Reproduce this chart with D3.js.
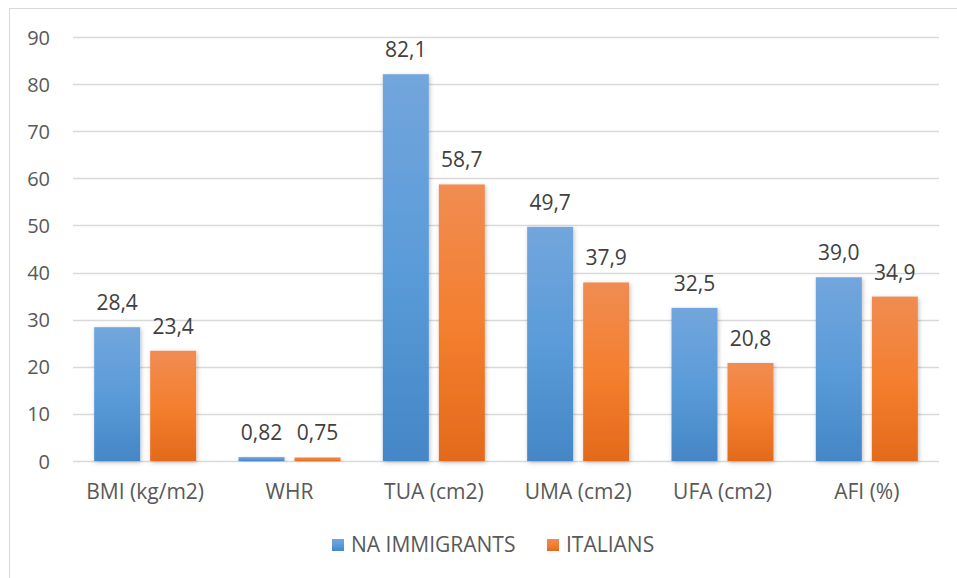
<!DOCTYPE html>
<html>
<head>
<meta charset="utf-8">
<script src="https://cdn.jsdelivr.net/npm/d3@7"></script>
<style>
  html, body { margin: 0; padding: 0; background: #fff; }
  svg { display: block; font-family: "Open Sans", "Liberation Sans", sans-serif; }
</style>
</head>
<body>
<svg id="chart" width="957" height="578"></svg>
<script>
const categories = ["BMI (kg/m2)", "WHR", "TUA (cm2)", "UMA (cm2)", "UFA (cm2)", "AFI (%)"];
const immigrants = [28.4, 0.82, 82.1, 49.7, 32.5, 39.0];
const italians   = [23.4, 0.75, 58.7, 37.9, 20.8, 34.9];
const labelsImmigrants = ["28,4", "0,82", "82,1", "49,7", "32,5", "39,0"];
const labelsItalians   = ["23,4", "0,75", "58,7", "37,9", "20,8", "34,9"];
const seriesNames = ["NA IMMIGRANTS", "ITALIANS"];
const yTicks = [0, 10, 20, 30, 40, 50, 60, 70, 80, 90];

const svg = d3.select("#chart");
const W = 957, H = 578;
const margin = { left: 73, right: 18, top: 37, bottom: 117 };

// outer chart frame
svg.append("rect")
  .attr("x", 9.5).attr("y", 8.5)
  .attr("width", W + 20).attr("height", H + 20)
  .attr("fill", "none").attr("stroke", "#d9d9d9").attr("stroke-width", 1);

const defs = svg.append("defs");
function grad(id, stops) {
  const g = defs.append("linearGradient").attr("id", id)
    .attr("x1", 0).attr("y1", 0).attr("x2", 0).attr("y2", 1);
  stops.forEach(([o, c]) => g.append("stop").attr("offset", o).attr("stop-color", c));
}
grad("gBlue", [[0, "#72a6dc"], [0.5, "#5b9bd9"], [1, "#4586c6"]]);
grad("gOrange", [[0, "#f08c52"], [0.5, "#f47f2f"], [1, "#e36a1b"]]);
const shadow = defs.append("filter").attr("id", "shadow")
  .attr("x", "-20%").attr("y", "-5%").attr("width", "140%").attr("height", "115%");
shadow.append("feDropShadow").attr("dx", 1).attr("dy", 1.5)
  .attr("stdDeviation", 2).attr("flood-color", "#000").attr("flood-opacity", 0.25);

const x = d3.scaleBand().domain(categories)
  .range([margin.left, W - margin.right]);
const y = d3.scaleLinear().domain([0, 90])
  .range([H - margin.bottom, margin.top]);

// gridlines
svg.append("g").selectAll("line").data(yTicks).join("line")
  .attr("x1", margin.left).attr("x2", W - margin.right)
  .attr("y1", d => Math.round(y(d)) + 0.5).attr("y2", d => Math.round(y(d)) + 0.5)
  .attr("stroke", "#d9d9d9").attr("stroke-width", 1.3);

// y axis labels
const yAxis = d3.axisLeft(y).tickValues(yTicks).tickSize(0).tickPadding(0);
const gy = svg.append("g").attr("transform", "translate(50,0)").call(yAxis);
gy.select(".domain").remove();
gy.selectAll("text").attr("fill", "#595959").style("font-size", "20px")
  .attr("font-family", "'Open Sans', sans-serif").attr("dy", "0.35em");

// x axis labels
const xAxis = d3.axisBottom(x).tickSize(0).tickPadding(0);
const gx = svg.append("g").attr("transform", `translate(0,${H - margin.bottom + 23})`).call(xAxis);
gx.select(".domain").remove();
gx.selectAll("text").attr("fill", "#595959").style("font-size", "21px")
  .attr("font-family", "'Open Sans', sans-serif").attr("dy", "0.71em");

const barW = 46, gap = 10;
const series = [
  { values: immigrants, labels: labelsImmigrants, fill: "url(#gBlue)", off: -(gap / 2 + barW) },
  { values: italians, labels: labelsItalians, fill: "url(#gOrange)", off: gap / 2 }
];

series.forEach(s => {
  const g = svg.append("g");
  g.selectAll("rect").data(categories).join("rect")
    .attr("x", (c) => x(c) + x.bandwidth() / 2 + s.off)
    .attr("y", (c, i) => y(s.values[i]))
    .attr("width", barW)
    .attr("height", (c, i) => y(0) - y(s.values[i]))
    .attr("fill", s.fill)
    .attr("filter", "url(#shadow)");
  g.selectAll("text").data(categories).join("text")
    .attr("x", (c) => x(c) + x.bandwidth() / 2 + s.off + barW / 2)
    .attr("y", (c, i) => y(s.values[i]) - 17)
    .attr("text-anchor", "middle")
    .attr("fill", "#404040")
    .style("font-size", "21px")
    .text((c, i) => s.labels[i]);
});

// legend
const legend = svg.append("g").attr("transform", "translate(0,545)");
const legendItems = [
  { name: seriesNames[0], fill: "url(#gBlue)", x: 332 },
  { name: seriesNames[1], fill: "url(#gOrange)", x: 547 }
];
legendItems.forEach(it => {
  legend.append("rect").attr("x", it.x).attr("y", -6).attr("width", 12).attr("height", 12)
    .attr("fill", it.fill);
  legend.append("text").attr("x", it.x + 19).attr("y", 0).attr("dy", "0.35em")
    .attr("fill", "#595959").style("font-size", "21px").text(it.name);
});
</script>
</body>
</html>
